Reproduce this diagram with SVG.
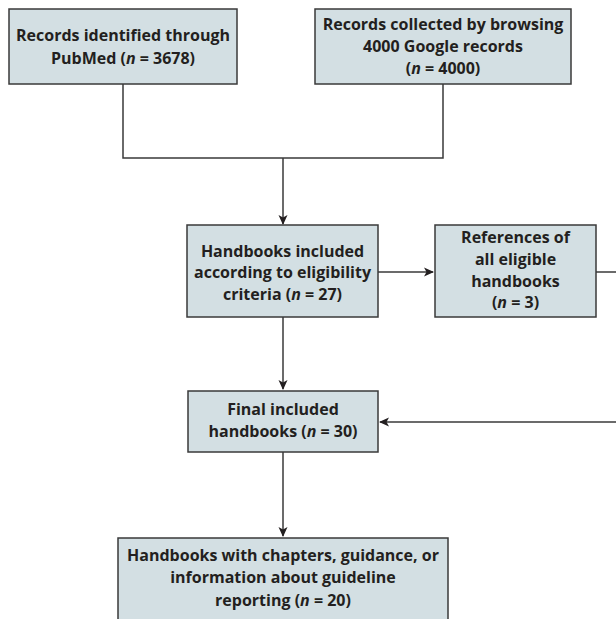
<svg xmlns="http://www.w3.org/2000/svg" width="616" height="619" viewBox="0 0 616 619">
<style>
.box{fill:#d3dfe3;stroke:#3a3a3a;stroke-width:1.5}
.t{font-family:"Open Sans",Lato,"Liberation Sans",sans-serif;font-weight:bold;font-size:16px;fill:#231f20;text-anchor:middle}
.i{font-style:italic}
.c{fill:none;stroke:#3a3a3a;stroke-width:1.5}
</style>
<defs>
<marker id="ah" markerWidth="10" markerHeight="10" refX="9" refY="5" orient="auto" markerUnits="userSpaceOnUse">
<path d="M0,0.5 L10,5 L0,9.5 L2.5,5 Z" fill="#231f20"/>
</marker>
</defs>
<rect width="616" height="619" fill="#fff"/>
<g id="connectors">
<path class="c" d="M123,84 V158 H443 V84"/>
<path class="c" d="M283,158 V224" marker-end="url(#ah)"/>
<path class="c" d="M378,272 H433" marker-end="url(#ah)"/>
<path class="c" d="M596,272 H616"/>
<path class="c" d="M616,422 H380" marker-end="url(#ah)"/>
<path class="c" d="M283,317 V389" marker-end="url(#ah)"/>
<path class="c" d="M283,452 V536" marker-end="url(#ah)"/>
</g>
<g id="n1">
<rect class="box" x="9" y="9" width="228" height="75"/>
<text class="t" x="123" y="41">Records identified through</text>
<text class="t" x="123" y="64">PubMed (<tspan class="i">n</tspan> = 3678)</text>
</g>
<g id="n2">
<rect class="box" x="315" y="9" width="256" height="75"/>
<text class="t" x="443" y="30">Records collected by browsing</text>
<text class="t" x="443" y="52">4000 Google records</text>
<text class="t" x="443" y="74">(<tspan class="i">n</tspan> = 4000)</text>
</g>
<g id="n3">
<rect class="box" x="187" y="225" width="191" height="92"/>
<text class="t" x="282.5" y="257">Handbooks included</text>
<text class="t" x="282.5" y="278">according to eligibility</text>
<text class="t" x="282.5" y="300">criteria (<tspan class="i">n</tspan> = 27)</text>
</g>
<g id="n4">
<rect class="box" x="435" y="225" width="161" height="92"/>
<text class="t" x="515.5" y="243">References of</text>
<text class="t" x="515.5" y="265">all eligible</text>
<text class="t" x="515.5" y="287">handbooks</text>
<text class="t" x="515.5" y="308">(<tspan class="i">n</tspan> = 3)</text>
</g>
<g id="n5">
<rect class="box" x="188" y="391" width="190" height="61"/>
<text class="t" x="283" y="415">Final included</text>
<text class="t" x="283" y="437">handbooks (<tspan class="i">n</tspan> = 30)</text>
</g>
<g id="n6">
<rect class="box" x="118" y="538" width="330" height="100"/>
<text class="t" x="283" y="561">Handbooks with chapters, guidance, or</text>
<text class="t" x="283" y="583">information about guideline</text>
<text class="t" x="283" y="606">reporting (<tspan class="i">n</tspan> = 20)</text>
</g>
</svg>
